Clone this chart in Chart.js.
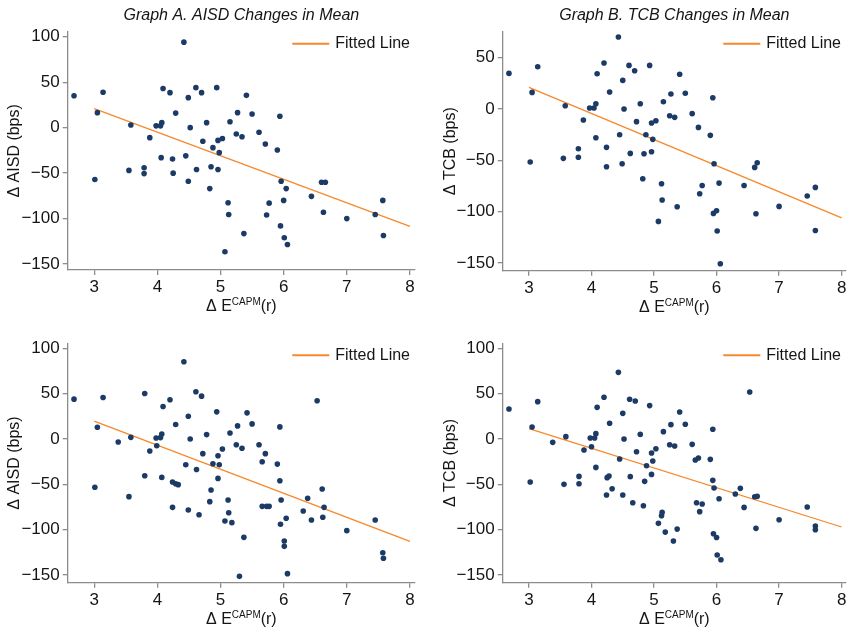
<!DOCTYPE html>
<html>
<head>
<meta charset="utf-8">
<script src="https://cdn.jsdelivr.net/npm/chart.js@4.4.1/dist/chart.umd.min.js"></script>
<style>
  body { margin: 0; background: #fff; }
  #wrap { position: relative; width: 850px; height: 629px; }
  #wrap canvas { position: absolute; }
</style>
</head>
<body>
<div id="wrap">
  <canvas id="aisdMean" width="425" height="315" style="left:0;top:0"></canvas>
  <canvas id="tcbMean" width="425" height="315" style="left:425px;top:0"></canvas>
  <canvas id="aisdLow" width="425" height="314" style="left:0;top:315px"></canvas>
  <canvas id="tcbLow" width="425" height="314" style="left:425px;top:315px"></canvas>
</div>
<script>
// tick values
const xTicks = [3, 4, 5, 6, 7, 8];
const aisdTicks = [-150, -100, -50, 0, 50, 100];
const tcbTicks = [-150, -100, -50, 0, 50];

// [ΔE(r), Δ spread in bps]
const aisdMeanPts = [
  [2.68, 35], [3.05, 16.5], [3.14, 39], [3.58, 3], [3.88, -11], [3.98, 2], [4.05, 2], [4.07, 5.5],
  [4.09, 43], [4.06, -33], [4.20, 38.5], [4.24, -34.5], [4.29, 16], [4.42, 94], [4.45, -31], [4.49, 33],
  [4.52, 0], [4.61, 44], [4.70, 38.5], [4.72, -15], [4.78, 5.5], [4.88, -22], [4.94, 44], [4.96, -14],
  [4.98, -27.5], [5.03, -12], [5.15, 6.5], [5.25, -7], [5.27, 16.5], [5.34, -10], [5.41, 35.5], [5.50, 15],
  [5.61, -5], [5.71, -18], [5.90, -24.5], [5.94, 12.5], [3.01, -57], [3.55, -47], [3.79, -44], [3.79, -50.5],
  [4.25, -50], [4.49, -59], [4.62, -46], [4.85, -43], [4.96, -46], [4.83, -67], [5.12, -82.5], [5.13, -95.5],
  [5.07, -136.5], [5.37, -116.5], [5.73, -96], [5.77, -83], [5.96, -59], [6.04, -67], [6.00, -80], [5.95, -108],
  [6.01, -121], [6.06, -128.5], [6.44, -75.5], [6.60, -60], [6.66, -60], [6.63, -93], [7.00, -100], [7.45, -95.5],
  [7.57, -80], [7.58, -118.5]
];
const aisdMeanFit = [[3, 21], [8, -108.5]];

const tcbMeanPts = [
  [2.68, 34.7], [3.05, 16.2], [3.14, 41.2], [3.58, 3.2], [3.87, -10.7], [3.97, 1], [4.04, 1], [4.07, 5.2],
  [4.09, 34.4], [4.07, -27.9], [4.20, 44.8], [4.24, -37.3], [4.29, 16.6], [4.43, 70.1], [4.45, -25], [4.50, 27.9],
  [4.52, 0], [4.60, 42.5], [4.69, 37.3], [4.72, -12.3], [4.78, 5.2], [4.87, -25], [4.93, 42.5], [4.96, -13.6],
  [4.98, -29.5], [5.03, -11.4], [5.15, 7.1], [5.25, -6.5], [5.27, 14.6], [5.33, -8.1], [5.41, 33.8], [5.50, 15.3],
  [5.61, -4.5], [5.71, -17.9], [5.90, -25.6], [5.94, 11], [4.62, -43.2], [4.84, -43.5], [4.96, -41.6], [3.79, -38.6],
  [3.79, -47], [3.55, -48], [3.02, -51.6], [4.24, -56.2], [4.49, -53.2], [4.82, -67.9], [5.12, -72.7], [5.13, -88.6],
  [5.07, -109.4], [5.37, -95.1], [5.73, -82.5], [5.77, -74.4], [5.96, -53.2], [6.04, -72.1], [5.95, -101.6], [6.00, -99],
  [6.01, -118.8], [6.06, -150.6], [6.44, -74.4], [6.61, -56.8], [6.65, -52.3], [6.63, -101.9], [7.00, -94.8], [7.45, -84.7],
  [7.58, -76.3], [7.58, -118.2]
];
const tcbMeanFit = [[3, 21], [8, -106]];

const aisdLowPts = [
  [2.68, 43.9], [3.05, 12.9], [3.14, 45.8], [3.38, -3.3], [3.58, 1.8], [3.80, 50.2], [3.88, -13.3], [3.98, 1.1],
  [3.99, -7.4], [4.05, 1.5], [4.07, 5.5], [4.09, 35.8], [4.20, 43.2], [4.29, 15.9], [4.42, 85.2], [4.45, -28.4],
  [4.49, 25.1], [4.52, 0], [4.61, 52], [4.62, -33.6], [4.70, 47.2], [4.72, -16.2], [4.78, 4.8], [4.88, -27.3],
  [4.94, 29.9], [4.96, -18.5], [4.98, -28.4], [5.03, -11.1], [5.15, 6.6], [5.25, -6.3], [5.27, 14.4], [5.34, -10.3],
  [5.42, 28.8], [5.50, 16.6], [5.61, -6.3], [5.66, -25.1], [5.71, -16.2], [5.90, -27.7], [5.94, 13.3], [6.53, 42.1],
  [3.80, -40.6], [4.07, -42.4], [4.96, -43.5], [5.94, -46], [3.01, -53.3], [3.55, -63.6], [4.24, -47.4], [4.29, -49.3],
  [4.33, -50.4], [4.24, -75.4], [4.49, -78.3], [4.66, -83.5], [4.83, -69.1], [4.85, -56.3], [5.12, -67.3], [5.13, -81.3],
  [5.07, -90.4], [5.18, -92.3], [5.37, -108.5], [5.30, -151.5], [5.66, -74.3], [5.73, -74.3], [5.77, -74.3], [5.96, -67.3],
  [5.95, -94.1], [6.04, -87.5], [6.01, -112.5], [6.01, -118.4], [6.06, -148.5], [6.31, -79.4], [6.38, -65.4], [6.44, -89.3],
  [6.61, -55.1], [6.64, -75.4], [6.62, -86.4], [7.00, -101.1], [7.45, -89.3], [7.57, -125.4], [7.58, -131.6]
];
const aisdLowFit = [[3, 19.6], [8, -113]];

const tcbLowPts = [
  [2.68, 33.1], [3.05, 13.2], [3.14, 41.2], [3.38, -3.7], [3.59, 2.6], [3.80, -41.2], [3.88, -12.1], [3.98, 1.1],
  [4.00, -8.5], [4.05, 1.1], [4.07, 5.9], [4.09, 34.9], [4.07, -31.3], [4.20, 46], [4.29, 17.3], [4.25, -42.6],
  [4.28, -40.8], [4.43, 73.5], [4.45, -22.1], [4.50, 28.3], [4.52, 0], [4.61, 43.8], [4.62, -41.5], [4.70, 41.9],
  [4.72, -14], [4.78, 5.1], [4.88, -29.4], [4.93, 36.8], [4.96, -15.4], [4.98, -24.3], [4.96, -39], [5.03, -10.7],
  [5.15, 8.1], [5.25, -6.3], [5.27, 15.8], [5.33, -7.7], [5.41, 29.8], [5.50, 16.2], [5.61, -5.9], [5.66, -23.2],
  [5.71, -21], [5.90, -22.4], [5.94, 10.7], [6.53, 51.8], [5.94, -45.6], [3.02, -47.4], [3.56, -50], [3.80, -49.3],
  [4.24, -61.8], [4.33, -54.8], [4.50, -61.8], [4.66, -70.2], [4.85, -46.7], [4.83, -73.5], [5.07, -93], [5.13, -80.9],
  [5.12, -84.6], [5.18, -102.6], [5.37, -99.3], [5.31, -112.5], [5.68, -70.2], [5.77, -71.7], [5.73, -80.1], [5.96, -54],
  [6.04, -65.8], [5.95, -104.4], [6.00, -108.5], [6.01, -127.9], [6.07, -133.1], [6.30, -60.7], [6.38, -54.4], [6.44, -75.4],
  [6.61, -63.6], [6.65, -63.2], [6.63, -98.5], [7.00, -89], [7.45, -75], [7.58, -96], [7.58, -100]
];
const tcbLowFit = [[3, 11.4], [8, -97]];

const NAVY = '#1b3a66';
const ORANGE = '#f7882c';
const AXIS = '#8c8c8c';
const INK = '#151515';
const FONT = '"Liberation Sans", Arial, sans-serif';

// "Fitted Line" key in the top-right corner of the plot
const fitLegend = {
  id: 'fitLegend',
  afterDraw(chart) {
    const ds = chart.data.datasets[1];
    const { ctx, chartArea } = chart;
    ctx.save();
    ctx.font = `16px ${FONT}`;
    const w = ctx.measureText(ds.label).width;
    const tx = chartArea.right - 5 - w;
    const y = chartArea.top + 12;
    ctx.strokeStyle = ds.borderColor;
    ctx.lineWidth = 2;
    ctx.beginPath();
    ctx.moveTo(tx - 43, y);
    ctx.lineTo(tx - 6, y);
    ctx.stroke();
    ctx.fillStyle = INK;
    ctx.textBaseline = 'middle';
    ctx.fillText(ds.label, tx, y);
    ctx.restore();
  }
};

// x axis title with the CAPM superscript
const capmTitle = {
  id: 'capmTitle',
  afterDraw(chart) {
    const { ctx, chartArea } = chart;
    const parts = [['\u0394 E', 16, 0], ['CAPM', 10, -6], ['(r)', 16, 0]];
    ctx.save();
    ctx.fillStyle = INK;
    ctx.textBaseline = 'alphabetic';
    let total = 0;
    parts.forEach(p => { ctx.font = `${p[1]}px ${FONT}`; p.push(ctx.measureText(p[0]).width); total += p[3]; });
    let x = (chartArea.left + chartArea.right) / 2 - total / 2;
    const base = chartArea.bottom + 41;
    parts.forEach(p => {
      ctx.font = `${p[1]}px ${FONT}`;
      ctx.fillText(p[0], x, base + p[2]);
      x += p[3];
    });
    ctx.restore();
  }
};

const minus = v => String(v).replace('-', '\u2212');

function panel(id, o) {
  new Chart(document.getElementById(id), {
    data: {
      datasets: [
        {
          type: 'scatter',
          label: o.name,
          data: o.points.map(([x, y]) => ({ x, y })),
          backgroundColor: NAVY,
          pointRadius: 2.8,
          pointBorderWidth: 0
        },
        {
          type: 'line',
          label: 'Fitted Line',
          data: o.fit.map(([x, y]) => ({ x, y })),
          borderColor: ORANGE,
          borderWidth: 1.3,
          pointRadius: 0
        }
      ]
    },
    options: {
      responsive: false,
      animation: false,
      layout: { padding: o.pad },
      plugins: {
        legend: { display: false },
        tooltip: { enabled: false },
        title: {
          display: !!o.title,
          text: o.title,
          fullSize: false,
          color: INK,
          font: { family: FONT, size: 16, style: 'italic', weight: 'normal' },
          padding: { top: 6, bottom: 6.5 }
        }
      },
      scales: {
        x: {
          type: 'linear',
          min: 2.58,
          max: o.xMax,
          afterBuildTicks: s => { s.ticks = xTicks.map(v => ({ value: v })); },
          afterFit: s => { s.height = o.xH; s.paddingLeft = 0; s.paddingRight = 0; },
          grid: { drawOnChartArea: false, tickLength: 5, color: AXIS, lineWidth: 1.3 },
          border: { color: AXIS, width: 1.3 },
          ticks: { color: INK, padding: 2, font: { family: FONT, size: 17 } }
        },
        y: {
          type: 'linear',
          min: o.yMin,
          max: o.yMax,
          afterBuildTicks: s => { s.ticks = o.yTicks.map(v => ({ value: v })); },
          afterFit: s => { s.width = o.yW; s.paddingTop = 0; s.paddingBottom = 0; },
          grid: { drawOnChartArea: false, tickLength: 5, color: AXIS, lineWidth: 1.3 },
          border: { color: AXIS, width: 1.3 },
          ticks: { color: INK, padding: 3, font: { family: FONT, size: 17 }, callback: minus },
          title: {
            display: true,
            text: o.yTitle,
            color: INK,
            font: { family: FONT, size: 16 },
            padding: { top: 4.5, bottom: 0 }
          }
        }
      }
    },
    plugins: [fitLegend, capmTitle]
  });
}

panel('aisdMean', {
  name: '\u0394 AISD', title: 'Graph A. AISD Changes in Mean', yTitle: '\u0394 AISD (bps)',
  points: aisdMeanPts, fit: aisdMeanFit, yTicks: aisdTicks,
  yMin: -156.5, yMax: 105.5, xMax: 8.08,
  pad: { top: 0, left: 0, right: 10, bottom: 0 }, yW: 67.7, xH: 45
});
panel('tcbMean', {
  name: '\u0394 TCB', title: 'Graph B. TCB Changes in Mean', yTitle: '\u0394 TCB (bps)',
  points: tcbMeanPts, fit: tcbMeanFit, yTicks: tcbTicks,
  yMin: -157.4, yMax: 75.3, xMax: 8.07,
  pad: { top: 0, left: 11, right: 0, bottom: 0 }, yW: 66.7, xH: 44.3
});
panel('aisdLow', {
  name: '\u0394 AISD', yTitle: '\u0394 AISD (bps)',
  points: aisdLowPts, fit: aisdLowFit, yTicks: aisdTicks,
  yMin: -158.5, yMax: 105.5, xMax: 8.08,
  pad: { top: 28.3, left: 0, right: 10, bottom: 0 }, yW: 67.7, xH: 46.3
});
panel('tcbLow', {
  name: '\u0394 TCB', yTitle: '\u0394 TCB (bps)',
  points: tcbLowPts, fit: tcbLowFit, yTicks: aisdTicks,
  yMin: -158.4, yMax: 105.5, xMax: 8.07,
  pad: { top: 28.3, left: 11, right: 0, bottom: 0 }, yW: 66.7, xH: 46.3
});
</script>
</body>
</html>
